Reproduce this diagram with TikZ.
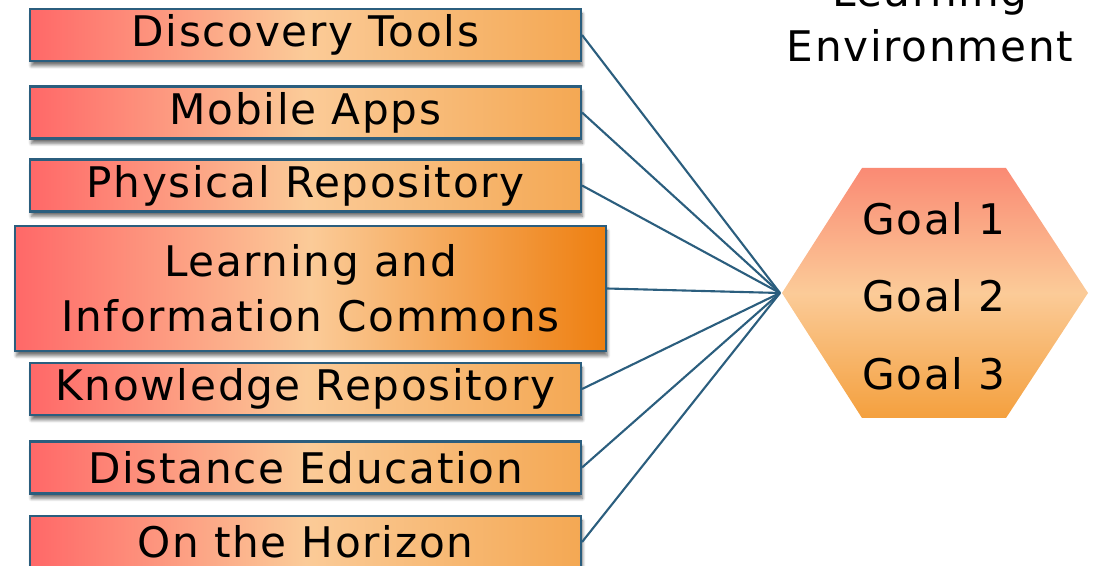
\documentclass[tikz,border=0pt]{standalone}
\usepackage{fontspec}
\setmainfont[LetterSpace=4]{DejaVu Sans}
\usetikzlibrary{positioning, shadows, shadows.blur}
\definecolor{cred}{HTML}{FF6868}
\definecolor{cpeach}{HTML}{FBCB98}
\definecolor{corange}{HTML}{F4A853}
\definecolor{cdeep}{HTML}{EE7F10}
\definecolor{cedge}{HTML}{2B5E7E}
\definecolor{chextop}{HTML}{FA8A74}
\definecolor{chexbot}{HTML}{F4A03E}
\tikzset{
  every picture/.style={font=\fontsize{30}{39}\selectfont},
  topic/.style={draw=cedge, line width=1.5pt, shading=axis, left color=cred, right color=#1,
    middle color=cpeach, minimum width=13.775cm, minimum height=1.3cm, inner sep=0pt,
    align=center, blur shadow={shadow xshift=1pt, shadow yshift=-3.5pt, shadow opacity=55, shadow blur steps=8}},
  topic/.default=corange,
  link/.style={draw=cedge, line width=1.5pt},
}

\begin{document}
\begin{tikzpicture}
  \useasboundingbox (0,0) rectangle (27.35,-14.15);
  % heading, first line runs off the top
  \node[align=center, inner sep=0pt, anchor=south] (head) at (23.25,-1.55) {Learning\\Environment};
  % topic boxes
  \foreach \i/\y/\t in {1/0.875/Discovery Tools, 2/2.8125/Mobile Apps, 3/4.6375/Physical Repository,
                        5/9.725/Knowledge Repository, 6/11.6875/Distance Education, 7/13.55/On the Horizon}
    \node[topic] (s\i) at (7.6375,-\y) {\t};
  \node[topic=cdeep, minimum width=14.775cm, minimum height=3.125cm] (s4) at (7.7625,-7.2125)
    {Learning and\\Information Commons};
  % goals hexagon
  \coordinate (hub) at (19.5,-7.325);
  \shade[top color=chextop, bottom color=chexbot, middle color=cpeach]
    (19.55,-7.325) -- (21.55,-4.2) -- (25.15,-4.2) -- (27.2,-7.325) -- (25.15,-10.45) -- (21.55,-10.45) -- cycle;
  \node[align=center, inner sep=0pt, font=\fontsize{30}{55}\selectfont] (goals) at (23.35,-7.4)
    {Goal 1\\Goal 2\\Goal 3};
  \foreach \i in {1,...,7} \draw[link] (s\i.east) -- (hub);
\end{tikzpicture}
\end{document}
